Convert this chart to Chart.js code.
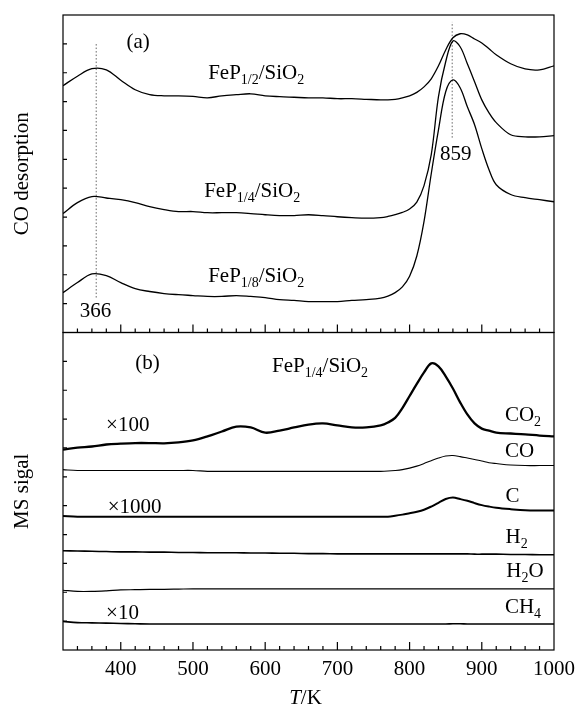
<!DOCTYPE html>
<html>
<head>
<meta charset="utf-8">
<script src="https://cdn.jsdelivr.net/npm/chart.js@4/dist/chart.umd.min.js"></script>
<style>
  html, body { margin: 0; padding: 0; background: #fff; }
  #chart { display: block; }
</style>
</head>
<body>
<canvas id="chart" width="578" height="704"></canvas>
<script>
"use strict";

// temperature grid (K), denser around the high-temperature peaks
const TEMPS = [320, 340, 360, 380, 400, 420, 440, 460, 480, 500, 520, 540, 560, 580, 600, 620, 640, 660, 680, 700, 720, 740, 760,
  770, 780, 790, 800, 810, 820, 830, 840, 850, 860, 870, 880, 890, 900, 910, 920,
  940, 960, 980, 1000];

// (a) CO desorption, offset traces (a.u.)
const FEP_1_2 = [85.5, 88.8, 91.4, 91.0, 87.4, 84.1, 82.4, 82.0, 82.0, 81.8, 81.3, 82.0, 82.4, 82.7, 82.0, 81.7, 81.5, 81.3, 81.3, 81.0, 81.0, 80.8, 80.6,
  80.6, 80.8, 81.3, 82.0, 83.2, 85.1, 87.9, 92.4, 97.9, 102.1, 103.5, 103.1, 101.7, 100.3, 98.3, 96.2,
  93.1, 91.3, 91.0, 92.4];
const FEP_1_4 = [41.2, 45.0, 47.1, 46.6, 46.0, 45.0, 43.6, 42.6, 41.9, 41.9, 41.5, 41.5, 41.5, 41.2, 40.8, 40.5, 40.5, 40.8, 40.5, 40.1, 39.8, 39.6, 39.8,
  40.2, 40.8, 41.6, 42.8, 45.2, 50.9, 61.6, 81.7, 93.8, 101.0, 99.0, 93.1, 86.9, 80.6, 76.1, 72.7,
  68.5, 67.8, 67.8, 68.2];
const FEP_1_8 = [13.8, 17.3, 20.3, 19.7, 17.3, 15.2, 14.2, 13.5, 13.1, 12.8, 12.5, 12.5, 12.8, 12.5, 12.1, 11.4, 11.1, 10.7, 10.7, 10.7, 11.1, 11.4, 11.9,
  12.6, 13.8, 15.8, 19.5, 26.5, 38.5, 55.0, 70.2, 83.4, 87.5, 84.8, 78.2, 72.0, 63.7, 56.4, 51.2,
  47.8, 46.7, 46.0, 45.3];

// (b) MS signal of FeP1/4/SiO2, offset traces (a.u.)
const MS_CO2 = [69.4, 70.1, 70.5, 71.2, 71.5, 71.7, 71.7, 71.6, 71.9, 72.6, 74.0, 75.7, 77.4, 77.1, 75.3, 76.0, 77.1, 78.1, 78.5, 77.8, 77.1, 77.1, 77.8,
  78.8, 80.4, 83.8, 88.0, 92.2, 96.2, 99.3, 98.3, 94.8, 90.6, 85.8, 81.6, 78.5, 76.7, 76.0, 75.3,
  75.0, 74.7, 74.3, 74.0];
const MS_CO = [62.5, 62.2, 62.2, 62.2, 62.2, 62.2, 62.2, 62.2, 62.2, 62.2, 61.9, 61.9, 61.9, 61.9, 61.9, 61.9, 61.9, 61.9, 61.9, 61.9, 61.9, 61.9, 61.9,
  62.0, 62.2, 62.5, 63.0, 63.7, 64.6, 65.6, 66.5, 67.2, 67.4, 67.0, 66.5, 66.0, 65.5, 64.9, 64.6,
  64.1, 63.9, 63.9, 63.9];
const MS_C = [46.4, 46.2, 46.2, 46.2, 46.2, 46.2, 46.2, 46.2, 46.2, 46.2, 46.2, 46.2, 46.2, 46.2, 46.2, 46.2, 46.2, 46.2, 46.2, 46.2, 46.2, 46.2, 46.2,
  46.2, 46.5, 46.9, 47.4, 47.9, 48.6, 49.7, 51.0, 52.3, 52.8, 52.3, 51.7, 50.9, 50.2, 49.7, 49.3,
  48.8, 48.4, 48.3, 48.3];
const MS_H2 = [34.4, 34.3, 34.2, 34.1, 34.0, 34.0, 33.9, 33.9, 33.8, 33.8, 33.7, 33.7, 33.7, 33.6, 33.6, 33.5, 33.5, 33.4, 33.4, 33.3, 33.3, 33.3, 33.3,
  33.3, 33.3, 33.3, 33.3, 33.3, 33.3, 33.3, 33.3, 33.3, 33.3, 33.3, 33.3, 33.2, 33.2, 33.2, 33.2,
  33.1, 33.1, 33.0, 33.0];
const MS_H2O = [20.7, 20.3, 20.3, 20.5, 20.8, 20.9, 21.0, 21.0, 21.1, 21.2, 21.2, 21.2, 21.2, 21.2, 21.2, 21.2, 21.2, 21.2, 21.2, 21.2, 21.2, 21.2, 21.2,
  21.2, 21.2, 21.2, 21.2, 21.2, 21.2, 21.2, 21.2, 21.2, 21.2, 21.2, 21.2, 21.2, 21.2, 21.2, 21.2,
  21.2, 21.2, 21.2, 21.2];
const MS_CH4 = [9.9, 9.5, 9.4, 9.3, 9.2, 9.1, 9.0, 9.0, 9.0, 9.0, 9.0, 9.0, 9.0, 9.0, 9.0, 9.0, 9.0, 9.0, 9.0, 9.0, 9.0, 9.0, 9.0,
  9.0, 9.0, 9.0, 9.0, 9.0, 9.0, 9.0, 9.0, 9.0, 9.1, 9.1, 9.0, 9.0, 9.0, 9.0, 9.0,
  9.0, 9.0, 9.0, 9.0];

// dotted guide lines at the peak temperatures: [x, yFrom, yTo]
const GUIDE_366 = [366, 12.1, 100];
const GUIDE_859 = [859, 67.5, 107.6];

const X_LABELS = [400, 500, 600, 700, 800, 900, 1000];

const SERIF = '"Liberation Serif", "Times New Roman", serif';
const FONT = 21;
const SUB_FONT = 14;

// text notes, in data coordinates of their panel
const NOTES = [
  { axis: "yA", x: 424, y: 98.6, text: "(a)", align: "center" },
  { axis: "yA", x: 521, y: 87.9, text: "FeP_{1/2}/SiO_{2}" },
  { axis: "yA", x: 515.5, y: 47.1, text: "FeP_{1/4}/SiO_{2}" },
  { axis: "yA", x: 521, y: 17.6, text: "FeP_{1/8}/SiO_{2}" },
  { axis: "yA", x: 365, y: 5.2, text: "366", align: "center" },
  { axis: "yA", x: 864, y: 59.9, text: "859", align: "center" },
  { axis: "yB", x: 437, y: 97.2, text: "(b)", align: "center" },
  { axis: "yB", x: 609.5, y: 96.2, text: "FeP_{1/4}/SiO_{2}" },
  { axis: "yB", x: 379.6, y: 76.0, text: "\u00d7100" },
  { axis: "yB", x: 382, y: 47.6, text: "\u00d71000" },
  { axis: "yB", x: 379.6, y: 10.8, text: "\u00d710" },
  { axis: "yB", x: 932, y: 79.5, text: "CO_{2}" },
  { axis: "yB", x: 932, y: 66.7, text: "CO" },
  { axis: "yB", x: 933, y: 51.4, text: "C" },
  { axis: "yB", x: 933, y: 37.2, text: "H_{2}" },
  { axis: "yB", x: 934, y: 25.3, text: "H_{2}O" },
  { axis: "yB", x: 932, y: 12.8, text: "CH_{4}" },
];

const pts = (ys) => TEMPS.map((t, i) => ({ x: t, y: ys[i] }));
const guide = ([x, y0, y1]) => [{ x, y: y0 }, { x, y: y1 }];

function trace(data, axis, width) {
  return {
    data: pts(data), yAxisID: axis, borderColor: "#000", borderWidth: width,
    pointRadius: 0, tension: 0.35, fill: false,
  };
}

function dotted(g) {
  return {
    data: guide(g), yAxisID: "yA", borderColor: "#666", borderWidth: 1,
    borderDash: [1.5, 2], pointRadius: 0, fill: false,
  };
}

// "FeP_{1/2}" -> subscripts, "*T*" -> italic
function drawRich(ctx, text, x, y, align) {
  const parts = text.split(/(_\{[^}]*\}|\*[^*]*\*)/).filter(Boolean).map((p) => {
    if (p.startsWith("_{")) return { t: p.slice(2, -1), sub: true };
    if (p.startsWith("*")) return { t: p.slice(1, -1), italic: true };
    return { t: p };
  });
  const fontOf = (p) => `${p.italic ? "italic " : ""}${p.sub ? SUB_FONT : FONT}px ${SERIF}`;
  let w = 0;
  for (const p of parts) {
    ctx.font = fontOf(p);
    p.w = ctx.measureText(p.t).width;
    w += p.w;
  }
  let cx = align === "center" ? x - w / 2 : x;
  ctx.textAlign = "left";
  ctx.textBaseline = "alphabetic";
  for (const p of parts) {
    ctx.font = fontOf(p);
    ctx.fillText(p.t, cx, p.sub ? y + 5 : y);
    cx += p.w;
  }
}

const framePlugin = {
  id: "frame",
  afterDatasetsDraw(chart) {
    const { ctx, chartArea, scales } = chart;
    const xs = scales.x;
    ctx.save();
    ctx.strokeStyle = "#000";
    ctx.fillStyle = "#000";
    ctx.lineWidth = 1.2;
    for (const id of ["yA", "yB"]) {
      const s = scales[id];
      ctx.strokeRect(chartArea.left, s.top, chartArea.right - chartArea.left, s.bottom - s.top);
      ctx.beginPath();
      for (let v = 340; v < 1000; v += 20) {
        const px = xs.getPixelForValue(v);
        const len = v % 100 === 0 ? 8 : 4;
        ctx.moveTo(px, s.bottom);
        ctx.lineTo(px, s.bottom - len);
      }
      for (let v = 10; v < 110; v += 10) {
        const py = s.getPixelForValue(v);
        ctx.moveTo(chartArea.left, py);
        ctx.lineTo(chartArea.left + 4, py);
      }
      ctx.stroke();
    }
    for (const n of NOTES) {
      drawRich(ctx, n.text, xs.getPixelForValue(n.x), scales[n.axis].getPixelForValue(n.y), n.align);
    }
    drawRich(ctx, "*T*/K", (chartArea.left + chartArea.right) / 2 - 3, chart.height - 0.5, "center");
    ctx.restore();
  },
};

const yAxis = (title) => ({
  type: "linear", position: "left", stack: "panels", stackWeight: 1,
  min: 0, max: 110,
  ticks: { display: false },
  grid: { display: false },
  border: { display: false },
  title: { display: true, text: title, color: "#000", font: { family: SERIF, size: FONT }, padding: { top: 10, bottom: 0 } },
  afterFit: (s) => { s.width = 63; },
});

new Chart(document.getElementById("chart"), {
  type: "line",
  data: {
    datasets: [
      trace(FEP_1_2, "yA", 1.3),
      trace(FEP_1_4, "yA", 1.3),
      trace(FEP_1_8, "yA", 1.3),
      dotted(GUIDE_366),
      dotted(GUIDE_859),
      trace(MS_CO2, "yB", 2.3),
      trace(MS_CO, "yB", 1.1),
      trace(MS_C, "yB", 2.0),
      trace(MS_H2, "yB", 1.6),
      trace(MS_H2O, "yB", 1.2),
      trace(MS_CH4, "yB", 1.6),
    ],
  },
  options: {
    responsive: false,
    animation: false,
    devicePixelRatio: 1,
    layout: { padding: { top: 15, right: 24, left: 0, bottom: 0 } },
    plugins: { legend: { display: false }, tooltip: { enabled: false } },
    scales: {
      x: {
        type: "linear", position: "bottom", min: 320, max: 1000,
        grid: { display: false, drawTicks: false },
        border: { display: false },
        ticks: {
          color: "#000", font: { family: SERIF, size: FONT }, padding: 7, autoSkip: false, maxRotation: 0,
          callback: (v) => String(v),
        },
        afterBuildTicks: (s) => { s.ticks = X_LABELS.map((v) => ({ value: v })); },
        afterFit: (s) => { s.height = 54; s.paddingLeft = 0; s.paddingRight = 0; },
      },
      yB: yAxis("MS sigal"),
      yA: yAxis("CO desorption"),
    },
  },
  plugins: [framePlugin],
});
</script>
</body>
</html>
